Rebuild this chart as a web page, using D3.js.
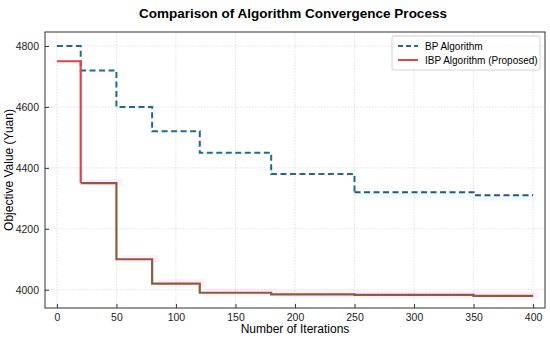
<!DOCTYPE html>
<html>
<head>
<meta charset="utf-8">
<script src="https://cdn.jsdelivr.net/npm/d3@7"></script>
<style>
body { margin: 0; background: #fff; }
text { font-family: "Liberation Sans", Arial, sans-serif; }
</style>
</head>
<body>
<script>
//SVG dimension variables
var w = 550, h = 339;

//data
var iterations = [0, 20, 50, 80, 120, 180, 250, 350, 400];
var bpValues = [4800, 4720, 4600, 4520, 4450, 4380, 4320, 4310, 4310];
var ibpValues = [4750, 4350, 4100, 4020, 3990, 3985, 3983, 3980, 3980];
var xTicks = [0, 50, 100, 150, 200, 250, 300, 350, 400];
var yTicks = [4000, 4200, 4400, 4600, 4800];
var seriesNames = ["BP Algorithm", "IBP Algorithm (Proposed)"];

window.onload = function(){

    var margin = {top: 32, right: 5, bottom: 31, left: 45};

    var svg = d3.select("body")
        .append("svg")
        .attr("width", w)
        .attr("height", h);

    var x = d3.scaleLinear()
        .domain([-10, 410])
        .range([margin.left, w - margin.right]);

    var y = d3.scaleLinear()
        .domain([3940, 4846])
        .range([h - margin.bottom, margin.top]);

    //dotted grid
    svg.append("g")
        .selectAll("line")
        .data(xTicks)
        .enter()
        .append("line")
        .attr("x1", function(d){ return x(d); })
        .attr("x2", function(d){ return x(d); })
        .attr("y1", margin.top)
        .attr("y2", h - margin.bottom)
        .style("stroke", "#d9d9d9")
        .style("stroke-width", 0.8)
        .style("stroke-dasharray", "1.5,1.5");

    svg.append("g")
        .selectAll("line")
        .data(yTicks)
        .enter()
        .append("line")
        .attr("x1", margin.left)
        .attr("x2", w - margin.right)
        .attr("y1", function(d){ return y(d); })
        .attr("y2", function(d){ return y(d); })
        .style("stroke", "#d9d9d9")
        .style("stroke-width", 0.8)
        .style("stroke-dasharray", "1.5,1.5");

    //shaded bands round each line (shifted a little, like the original)
    var pts = iterations.map(function(d, i){ return {it: d, bp: bpValues[i], ibp: ibpValues[i]}; });

    var bandIbp = d3.area()
        .curve(d3.curveStepAfter)
        .x(function(d){ return x(Math.min(d.it === 0 ? 0 : d.it + 5, 405)); })
        .y0(function(d){ return y(d.ibp - 10); })
        .y1(function(d){ return y(d.ibp + 14); });

    svg.append("path")
        .datum(pts.slice(1))
        .attr("d", bandIbp)
        .style("fill", "#ff4fc8")
        .style("opacity", 0.09);

    var bandBp = d3.area()
        .curve(d3.curveStepAfter)
        .x(function(d){ return x(Math.min(d.it, 405)); })
        .y0(function(d){ return y(d.bp - 18); })
        .y1(function(d){ return y(d.bp); });

    svg.append("path")
        .datum(pts.slice(6))
        .attr("d", bandBp)
        .style("fill", "#5fe0e8")
        .style("opacity", 0.1);

    //step lines
    var bpLine = d3.line()
        .curve(d3.curveStepAfter)
        .x(function(d){ return x(d.it); })
        .y(function(d){ return y(d.bp); });

    svg.append("path")
        .datum(pts.slice(0, 7))
        .attr("d", bpLine)
        .style("fill", "none")
        .style("stroke", "#1f6b8a")
        .style("stroke-width", 2)
        .style("stroke-dasharray", "6,3.5");

    svg.append("path")
        .datum(pts.slice(6))
        .attr("d", bpLine)
        .style("fill", "none")
        .style("stroke", "#34507f")
        .style("stroke-width", 2)
        .style("stroke-dasharray", "6,3.5");

    var ibpLine = d3.line()
        .curve(d3.curveStepAfter)
        .x(function(d){ return x(d.it); })
        .y(function(d){ return y(d.ibp); });

    svg.append("path")
        .datum(pts.slice(1))
        .attr("d", ibpLine)
        .style("fill", "none")
        .style("stroke", "#8f5a3e")
        .style("stroke-width", 2.2);

    //red first step and drop
    svg.append("path")
        .datum(pts.slice(0, 2))
        .attr("d", ibpLine)
        .style("fill", "none")
        .style("stroke", "#e0434e")
        .style("stroke-width", 2.2);

    //axes with inward ticks
    var xAxis = d3.axisBottom(x)
        .tickValues(xTicks)
        .tickFormat(d3.format("d"))
        .tickSize(-4)
        .tickPadding(6);

    svg.append("g")
        .attr("class", "axis")
        .attr("transform", "translate(0," + (h - margin.bottom) + ")")
        .call(xAxis);

    var yAxis = d3.axisLeft(y)
        .tickValues(yTicks)
        .tickFormat(d3.format("d"))
        .tickSize(-4)
        .tickPadding(6);

    svg.append("g")
        .attr("class", "axis")
        .attr("transform", "translate(" + margin.left + ",0)")
        .call(yAxis);

    svg.selectAll(".axis .domain").remove();
    svg.selectAll(".axis text")
        .style("font-size", "10.5px")
        .style("fill", "#222");
    svg.selectAll(".axis line").style("stroke", "#333");

    //frame
    svg.append("rect")
        .attr("x", margin.left)
        .attr("y", margin.top)
        .attr("width", w - margin.left - margin.right)
        .attr("height", h - margin.top - margin.bottom)
        .style("fill", "none")
        .style("stroke", "#333")
        .style("stroke-width", 1);

    //title and axis labels
    svg.append("text")
        .attr("x", 293)
        .attr("y", 18)
        .attr("text-anchor", "middle")
        .style("font-size", "13.5px")
        .style("font-weight", "bold")
        .text("Comparison of Algorithm Convergence Process");

    svg.append("text")
        .attr("x", (margin.left + w - margin.right) / 2)
        .attr("y", 333)
        .attr("text-anchor", "middle")
        .style("font-size", "12px")
        .text("Number of Iterations");

    svg.append("text")
        .attr("transform", "translate(13," + ((margin.top + h - margin.bottom) / 2) + ") rotate(-90)")
        .attr("text-anchor", "middle")
        .style("font-size", "12px")
        .text("Objective Value (Yuan)");

    //legend
    var legend = svg.append("g")
        .attr("transform", "translate(392,36)");

    legend.append("rect")
        .attr("width", 148)
        .attr("height", 34)
        .attr("rx", 2)
        .style("fill", "#fff")
        .style("opacity", 0.85)
        .style("stroke", "#ccc");

    var legendStyles = [
        {color: "#1f6b8a", dash: "5,3"},
        {color: "#e0434e", dash: null}
    ];

    var items = legend.selectAll(".legendItem")
        .data(seriesNames)
        .enter()
        .append("g")
        .attr("class", "legendItem")
        .attr("transform", function(d, i){ return "translate(6," + (10 + i * 14) + ")"; });

    items.append("line")
        .attr("x1", 0)
        .attr("x2", 20)
        .style("stroke", function(d, i){ return legendStyles[i].color; })
        .style("stroke-width", 2)
        .style("stroke-dasharray", function(d, i){ return legendStyles[i].dash; });

    items.append("text")
        .attr("x", 27)
        .attr("y", 3.5)
        .style("font-size", "10px")
        .text(function(d){ return d; });
};
</script>
</body>
</html>
